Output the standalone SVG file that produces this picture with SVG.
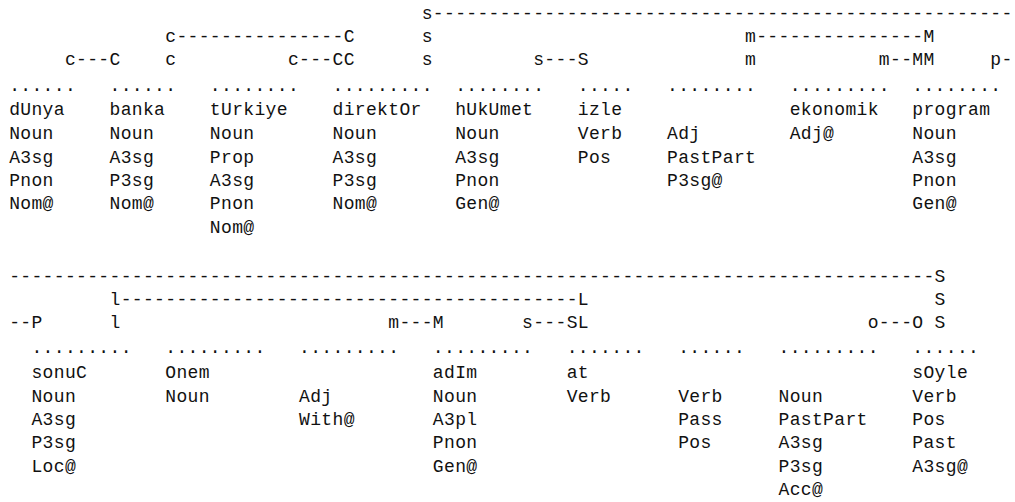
<svg xmlns="http://www.w3.org/2000/svg" width="1015" height="502" viewBox="0 0 1015 502">
<style>
text{font-family:"Liberation Mono","DejaVu Sans Mono",monospace;font-size:18px;letter-spacing:0.35px;fill:#111}
</style>
<rect width="1015" height="502" fill="#fff"/>
<g id="connectors">
<text x="421.7" y="18.5">s</text>
<text x="432.85" y="18.5" textLength="579.8" lengthAdjust="spacing">----------------------------------------------------</text>
<text x="165.25" y="42">c</text>
<text x="176.4" y="42" textLength="167.25" lengthAdjust="spacing">---------------</text>
<text x="343.65" y="42">C</text>
<text x="421.7" y="42">s</text>
<text x="745.05" y="42">m</text>
<text x="756.2" y="42" textLength="167.25" lengthAdjust="spacing">---------------</text>
<text x="923.45" y="42">M</text>
<text x="64.9" y="65.3">c---C</text>
<text x="165.25" y="65.3">c</text>
<text x="287.9" y="65.3">c---CC</text>
<text x="421.7" y="65.3">s</text>
<text x="533.2" y="65.3">s---S</text>
<text x="745.05" y="65.3">m</text>
<text x="878.85" y="65.3">m--MM</text>
<text x="990.35" y="65.3">p-</text>
<text x="9.15" y="281.7" textLength="925.45" lengthAdjust="spacing">-----------------------------------------------------------------------------------</text>
<text x="934.6" y="281.7">S</text>
<text x="109.5" y="305">l</text>
<text x="120.65" y="305" textLength="457.15" lengthAdjust="spacing">-----------------------------------------</text>
<text x="577.8" y="305">L</text>
<text x="934.6" y="305">S</text>
<text x="9.15" y="328.3">--P</text>
<text x="109.5" y="328.3">l</text>
<text x="388.25" y="328.3">m---M</text>
<text x="522.05" y="328.3">s---SL</text>
<text x="867.7" y="328.3">o---O</text>
<text x="934.6" y="328.3">S</text>
</g>
<g id="n-dUnya">
<text x="9.15" y="90.5">......</text>
<text x="9.15" y="115">dUnya</text>
<text x="9.15" y="139.3">Noun</text>
<text x="9.15" y="162.7">A3sg</text>
<text x="9.15" y="186">Pnon</text>
<text x="9.15" y="209.3">Nom@</text>
</g>
<g id="n-banka">
<text x="109.5" y="90.5">......</text>
<text x="109.5" y="115">banka</text>
<text x="109.5" y="139.3">Noun</text>
<text x="109.5" y="162.7">A3sg</text>
<text x="109.5" y="186">P3sg</text>
<text x="109.5" y="209.3">Nom@</text>
</g>
<g id="n-tUrkiye">
<text x="209.85" y="90.5">........</text>
<text x="209.85" y="115">tUrkiye</text>
<text x="209.85" y="139.3">Noun</text>
<text x="209.85" y="162.7">Prop</text>
<text x="209.85" y="186">A3sg</text>
<text x="209.85" y="209.3">Pnon</text>
<text x="209.85" y="232.7">Nom@</text>
</g>
<g id="n-direktOr">
<text x="332.5" y="90.5">.........</text>
<text x="332.5" y="115">direktOr</text>
<text x="332.5" y="139.3">Noun</text>
<text x="332.5" y="162.7">A3sg</text>
<text x="332.5" y="186">P3sg</text>
<text x="332.5" y="209.3">Nom@</text>
</g>
<g id="n-hUkUmet">
<text x="455.15" y="90.5">........</text>
<text x="455.15" y="115">hUkUmet</text>
<text x="455.15" y="139.3">Noun</text>
<text x="455.15" y="162.7">A3sg</text>
<text x="455.15" y="186">Pnon</text>
<text x="455.15" y="209.3">Gen@</text>
</g>
<g id="n-izle">
<text x="577.8" y="90.5">.....</text>
<text x="577.8" y="115">izle</text>
<text x="577.8" y="139.3">Verb</text>
<text x="577.8" y="162.7">Pos</text>
</g>
<g id="n-izle-adj">
<text x="667" y="90.5">........</text>
<text x="667" y="139.3">Adj</text>
<text x="667" y="162.7">PastPart</text>
<text x="667" y="186">P3sg@</text>
</g>
<g id="n-ekonomik">
<text x="789.65" y="90.5">.........</text>
<text x="789.65" y="115">ekonomik</text>
<text x="789.65" y="139.3">Adj@</text>
</g>
<g id="n-program">
<text x="912.3" y="90.5">........</text>
<text x="912.3" y="115">program</text>
<text x="912.3" y="139.3">Noun</text>
<text x="912.3" y="162.7">A3sg</text>
<text x="912.3" y="186">Pnon</text>
<text x="912.3" y="209.3">Gen@</text>
</g>
<g id="n-sonuC">
<text x="31.45" y="353">.........</text>
<text x="31.45" y="377.8">sonuC</text>
<text x="31.45" y="401.7">Noun</text>
<text x="31.45" y="425">A3sg</text>
<text x="31.45" y="448.3">P3sg</text>
<text x="31.45" y="471.7">Loc@</text>
</g>
<g id="n-Onem">
<text x="165.25" y="353">.........</text>
<text x="165.25" y="377.8">Onem</text>
<text x="165.25" y="401.7">Noun</text>
</g>
<g id="n-Onem-adj">
<text x="299.05" y="353">.........</text>
<text x="299.05" y="401.7">Adj</text>
<text x="299.05" y="425">With@</text>
</g>
<g id="n-adIm">
<text x="432.85" y="353">.........</text>
<text x="432.85" y="377.8">adIm</text>
<text x="432.85" y="401.7">Noun</text>
<text x="432.85" y="425">A3pl</text>
<text x="432.85" y="448.3">Pnon</text>
<text x="432.85" y="471.7">Gen@</text>
</g>
<g id="n-at">
<text x="566.65" y="353">.......</text>
<text x="566.65" y="377.8">at</text>
<text x="566.65" y="401.7">Verb</text>
</g>
<g id="n-at-pass">
<text x="678.15" y="353">......</text>
<text x="678.15" y="401.7">Verb</text>
<text x="678.15" y="425">Pass</text>
<text x="678.15" y="448.3">Pos</text>
</g>
<g id="n-at-noun">
<text x="778.5" y="353">.........</text>
<text x="778.5" y="401.7">Noun</text>
<text x="778.5" y="425">PastPart</text>
<text x="778.5" y="448.3">A3sg</text>
<text x="778.5" y="471.7">P3sg</text>
<text x="778.5" y="495">Acc@</text>
</g>
<g id="n-sOyle">
<text x="912.3" y="353">......</text>
<text x="912.3" y="377.8">sOyle</text>
<text x="912.3" y="401.7">Verb</text>
<text x="912.3" y="425">Pos</text>
<text x="912.3" y="448.3">Past</text>
<text x="912.3" y="471.7">A3sg@</text>
</g>
</svg>
